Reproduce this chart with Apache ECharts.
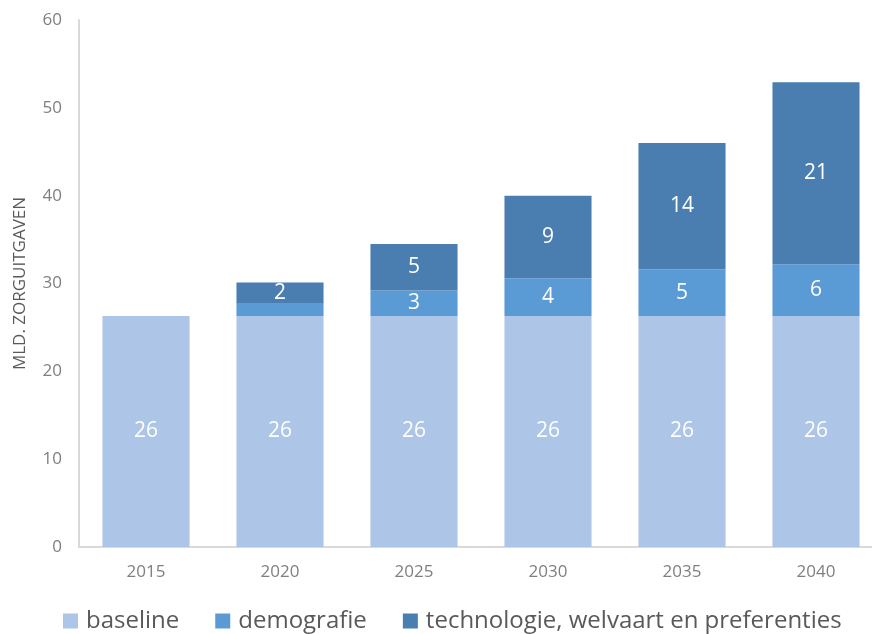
<!DOCTYPE html>
<html>
<head>
<meta charset="utf-8">
<script src="https://cdn.jsdelivr.net/npm/echarts@6/dist/echarts.min.js"></script>
<style>
  html, body { margin: 0; padding: 0; background: #fff; overflow: hidden; }
  #chart { width: 883px; height: 634px; }
</style>
</head>
<body>
<div id="chart"></div>
<script>
const years = ["2015", "2020", "2025", "2030", "2035", "2040"];
const baseline = [26.3, 26.3, 26.3, 26.3, 26.3, 26.3];
const demografie = [0, 1.4, 2.9, 4.3, 5.3, 5.9];
const technologie = [0, 2.4, 5.3, 9.4, 14.4, 20.7];

const font = "Open Sans";

// labels are shown rounded, tiny segments get none
const label = {
  show: true,
  position: "inside",
  color: "#fff",
  fontSize: 21,
  fontFamily: font,
  formatter: (p) => (p.value >= 2 ? String(Math.round(p.value)) : "")
};

function bar(name, data, color) {
  return {
    name,
    type: "bar",
    stack: "total",
    barWidth: "65%",
    data,
    itemStyle: { color },
    label,
    emphasis: { disabled: true }
  };
}

// the plot runs a little past the right edge of the window, as in the source image
const chart = echarts.init(document.getElementById("chart"), null, { renderer: "canvas" });
chart.setOption({
  animation: false,
  textStyle: { fontFamily: font },
  grid: { left: 79, top: 20, right: 0, bottom: 87, containLabel: false },
  xAxis: {
    type: "category",
    data: years,
    axisLine: { lineStyle: { color: "#d9d9d9", width: 2 } },
    axisTick: { show: false },
    axisLabel: { color: "#7f7f7f", fontSize: 17, margin: 17, fontFamily: font }
  },
  yAxis: {
    type: "value",
    min: 0,
    max: 60,
    interval: 10,
    name: "MLD. ZORGUITGAVEN",
    nameLocation: "middle",
    nameGap: 50,
    nameTextStyle: { color: "#595959", fontSize: 17, fontFamily: font },
    axisLine: { show: true, lineStyle: { color: "#d9d9d9", width: 2 } },
    axisTick: { show: false },
    splitLine: { show: false },
    axisLabel: { color: "#7f7f7f", fontSize: 17, margin: 17, fontFamily: font }
  },
  legend: {
    bottom: -4,
    left: 58,
    itemWidth: 15,
    itemHeight: 15,
    itemGap: 36,
    icon: "rect",
    textStyle: { color: "#595959", fontSize: 24, fontFamily: font, padding: [0, 0, 0, 3] },
    data: ["baseline", "demografie", "technologie, welvaart en preferenties"]
  },
  series: [
    bar("baseline", baseline, "#adc5e6"),
    bar("demografie", demografie, "#5b9bd5"),
    bar("technologie, welvaart en preferenties", technologie, "#4a7eb1")
  ]
});
</script>
</body>
</html>
